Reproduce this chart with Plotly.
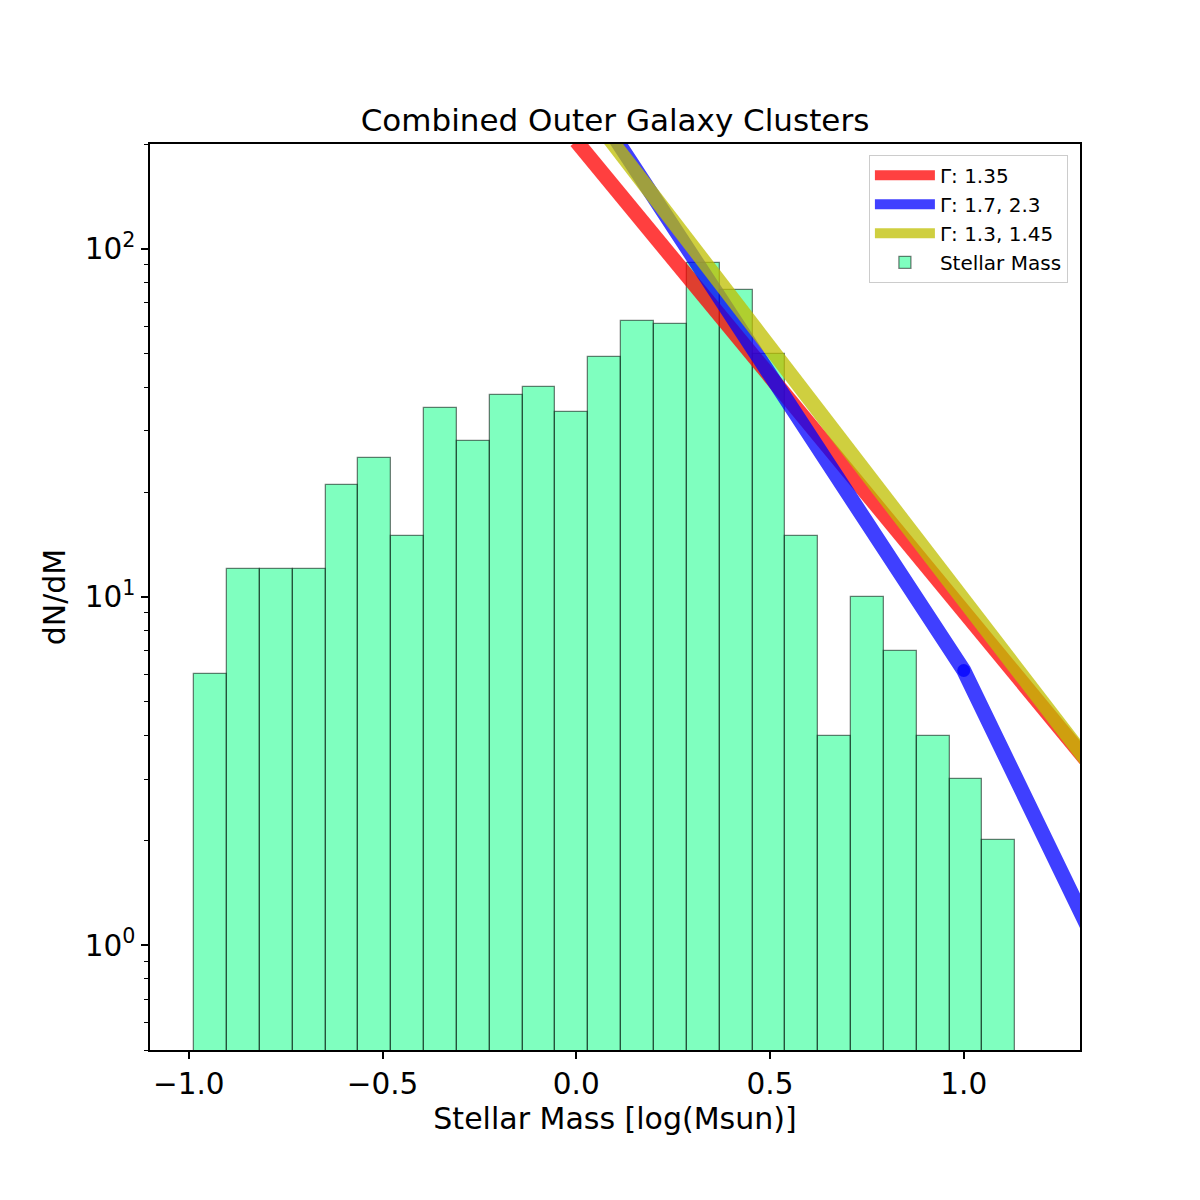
import numpy as np
import plotly.graph_objects as go

# ---------------- data ----------------
counts = [6, 12, 12, 12, 21, 25, 15, 35, 28, 38, 40, 34, 49, 62, 61, 91, 76, 50, 15, 4, 10, 7, 4, 3, 2]
bin_lo = -0.986
bin_hi = 1.133

red_x = [0.0, 1.4]
red_y = [203.7, 2.62]
blue_x = [0.0, 1.0, 1.4]
blue_y = [308.0, 6.15, 0.74]
yellow_x = [0.0, 1.4]
yellow_y = [276.0, 2.58]

x_tickvals = [-1.0, -0.5, 0.0, 0.5, 1.0]
x_ticktext = ["\u22121.0", "\u22120.5", "0.0", "0.5", "1.0"]
y_tickvals = [1, 10, 100]
y_ticktext = ["10<sup>0</sup>", "10<sup>1</sup>", "10<sup>2</sup>"]
y_minor = [0.5, 0.6, 0.7, 0.8, 0.9, 2, 3, 4, 5, 6, 7, 8, 9,
           20, 30, 40, 50, 60, 70, 80, 90, 200]

edges = np.linspace(bin_lo, bin_hi, len(counts) + 1)
centers = (edges[:-1] + edges[1:]) / 2
width = edges[1] - edges[0]

FONT = "DejaVu Sans"
LW = 15

fig = go.Figure()
fig.add_trace(go.Bar(
    x=centers, y=counts, width=width, name="Stellar Mass",
    marker=dict(color="rgba(0,255,127,0.5)",
                line=dict(color="rgba(0,0,0,0.5)", width=1.3)),
    legendrank=4,
))
fig.add_trace(go.Scatter(
    x=red_x, y=red_y, mode="lines", name="\u0393: 1.35",
    line=dict(color="rgb(255,0,0)", width=LW), opacity=0.75, legendrank=1,
))
fig.add_trace(go.Scatter(
    x=blue_x, y=blue_y, mode="lines", name="\u0393: 1.7, 2.3",
    line=dict(color="rgb(0,0,255)", width=LW), opacity=0.75, legendrank=2,
))
fig.add_trace(go.Scatter(
    x=[blue_x[1]], y=[blue_y[1]], mode="markers", showlegend=False,
    marker=dict(color="rgb(0,0,255)", size=13, line=dict(width=0)), opacity=0.75,
))
fig.add_trace(go.Scatter(
    x=yellow_x, y=yellow_y, mode="lines", name="\u0393: 1.3, 1.45",
    line=dict(color="rgb(191,191,0)", width=LW), opacity=0.75, legendrank=3,
))

fig.update_layout(
    width=1200, height=1200,
    margin=dict(l=150, r=120, t=144, b=150),
    paper_bgcolor="white", plot_bgcolor="white",
    font=dict(family=FONT, color="black"),
    bargap=0,
    title=dict(text="Combined Outer Galaxy Clusters", font=dict(size=31, family=FONT),
               x=0.5, xanchor="center", y=0.9, yanchor="middle", xref="paper"),
    legend=dict(x=0.987, y=0.988, xanchor="right", yanchor="top",
                bgcolor="rgba(255,255,255,0.8)", bordercolor="#cccccc", borderwidth=1,
                font=dict(size=20, family=FONT), traceorder="normal",
                itemwidth=60, tracegroupgap=0),
)
fig.update_xaxes(
    range=[-1.1, 1.3], showgrid=False, zeroline=False,
    showline=True, linecolor="black", linewidth=1.5, mirror=True,
    ticks="outside", ticklen=7, tickwidth=1.5, tickcolor="black",
    tickvals=x_tickvals, ticktext=x_ticktext, tickfont=dict(size=29.5, family=FONT),
    title=dict(text="Stellar Mass [log(Msun)]", font=dict(size=30, family=FONT), standoff=8),
    automargin=False,
)
fig.update_yaxes(
    type="log", range=[np.log10(0.5), np.log10(200)], showgrid=False, zeroline=False,
    showline=True, linecolor="black", linewidth=1.5, mirror=True,
    ticks="outside", ticklen=7, tickwidth=1.5, tickcolor="black",
    tickvals=y_tickvals, ticktext=y_ticktext, tickfont=dict(size=29.5, family=FONT),
    minor=dict(tickvals=y_minor, ticks="outside", ticklen=4, tickwidth=1.2, tickcolor="black", showgrid=False),
    title=dict(text="dN/dM", font=dict(size=30, family=FONT), standoff=10),
    automargin=False,
)

fig.write_html("out.html")
